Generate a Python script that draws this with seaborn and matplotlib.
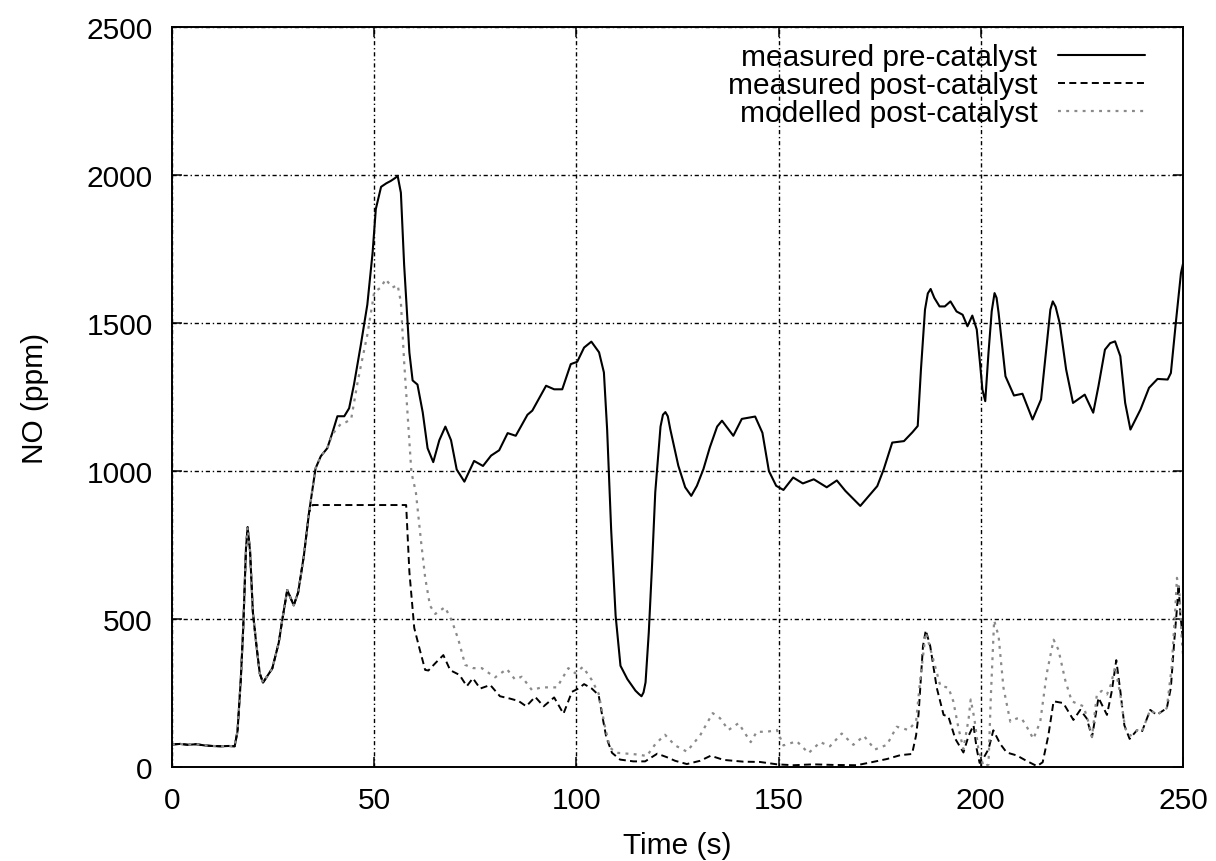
import matplotlib
matplotlib.use("Agg")
import matplotlib.pyplot as plt
import seaborn as sns

# NO concentration traces over the drive cycle (time in s, NO in ppm)
pre_t = [0, 2, 4, 6, 8, 10, 12, 14, 15.5, 16.2, 17.0, 17.6, 18.3, 18.7, 19.3, 20.0, 20.9, 21.7, 22.5,
         24.8, 26.4, 27.3, 28.5, 30.1, 31.2, 32.6, 33.9, 35.5, 36.8, 38.4, 39.7, 40.9, 42.6, 43.8,
         45.0, 46.7, 48.3, 49.6, 50.4, 51.7, 53.0, 54.1, 55.2, 55.8, 56.6, 57.4, 58.7, 59.5, 60.7,
         62.0, 63.2, 64.6, 66.1, 67.6, 69.0, 70.4, 72.3, 74.7, 76.9, 78.9, 80.9, 83.0, 85.0, 87.9,
         89.1, 92.5, 94.5, 96.5, 98.6, 100.2, 101.9, 103.7, 105.6, 106.8, 107.6, 108.6, 109.7, 110.9,
         112.6, 114.6, 115.5, 116.1, 116.6, 117.1, 117.9, 118.7, 119.5, 120.8, 121.4, 122.0, 122.6,
         123.2, 125.2, 126.9, 128.4, 129.8, 131.4, 133.0, 134.8, 136.0, 138.8, 140.9, 144.2, 146.0,
         147.6, 149.4, 151.2, 153.6, 156.0, 158.7, 161.9, 164.4, 166.5, 170.2, 174.4, 176.0, 178.1,
         181.0, 183.1, 184.4, 185.2, 186.2, 186.9, 187.6, 188.5, 189.8, 191.1, 192.5, 194.0, 195.5,
         196.7, 197.9, 199.0, 199.8, 200.4, 201.1, 201.9, 202.7, 203.4, 203.9, 204.4, 206.1, 208.2,
         210.3, 211.5, 212.8, 214.9, 216.5, 217.2, 217.8, 218.5, 219.5, 221.1, 222.8, 225.7, 227.8,
         229.1, 230.7, 232.0, 233.2, 234.5, 235.7, 237.0, 239.5, 241.6, 243.7, 246.2, 247.0, 248.3,
         249.5, 250.0]
pre_v = [76, 78, 75, 77, 73, 71, 70, 71, 70, 121, 293, 466, 740, 810, 730, 523, 408, 316, 285,
         333, 420, 500, 598, 546, 590, 713, 861, 1009, 1050, 1077, 1131, 1185, 1185, 1212,
         1292, 1427, 1562, 1737, 1885, 1960, 1972, 1980, 1990, 1997, 1940, 1697, 1400, 1306, 1292,
         1198, 1077, 1030, 1104, 1150, 1104, 1005, 964, 1034, 1017, 1052, 1070, 1128, 1119, 1190,
         1204, 1288, 1276, 1276, 1361, 1369, 1417, 1437, 1401, 1333, 1140, 800, 511, 342,
         297, 258, 246, 239, 252, 286, 455, 680, 928, 1150, 1190, 1199, 1185,
         1142, 1018, 945, 916, 950, 1006, 1080, 1150, 1170, 1119, 1176, 1184, 1129,
         1000, 950, 936, 978, 958, 972, 945, 968, 933, 882, 949, 1006, 1096,
         1101, 1131, 1152, 1343, 1545, 1600, 1615, 1585, 1556, 1556, 1573, 1539, 1528,
         1489, 1525, 1478, 1365, 1275, 1236, 1399, 1540, 1601, 1585, 1534, 1320, 1255,
         1261, 1219, 1174, 1242, 1455, 1545, 1573, 1555, 1500, 1343, 1230, 1258, 1197,
         1287, 1410, 1432, 1438, 1388, 1230, 1140, 1208, 1281, 1311, 1309, 1331, 1511,
         1669, 1700]

post_t = [0, 2, 4, 6, 8, 10, 12, 14, 15.5, 16.2, 17.0, 17.6, 18.3, 18.7, 19.3, 20.0, 20.9, 21.7, 22.5,
          24.8, 26.4, 27.3, 28.5, 30.1, 31.2, 32.6, 33.9, 34.8, 57.9, 58.7, 59.9, 61.2, 62.6, 63.4,
          65.2, 67.1, 68.8, 71.1, 72.9, 74.4, 76.2, 78.7, 81.1, 83.6, 85.7, 87.6, 89.8, 91.9, 94.5,
          96.8, 98.9, 100.5, 101.9, 103.8, 105.5, 106.3, 107.4, 108.8, 110.8, 114.1, 117.0, 120.0,
          122.4, 124.4, 127.3, 130.6, 133.2, 136.4, 141.3, 145.4, 149.6, 153.7, 158.6, 163.6, 169.3,
          172.6, 176.8, 180.1, 183.0, 184.0, 184.6, 185.7, 186.4, 187.5, 189.1, 190.8, 192.0, 193.7,
          195.7, 197.0, 198.2, 199.0, 199.7, 200.7, 201.9, 203.1, 204.8, 206.4, 208.9, 211.4, 213.9,
          215.3, 216.7, 218.0, 220.4, 222.9, 224.6, 226.2, 227.5, 229.1, 231.2, 232.4, 233.5, 234.5,
          235.5, 236.8, 238.6, 239.8, 241.9, 243.5, 246.0, 247.0, 247.8, 248.5, 248.9, 249.3, 250.0]
post_v = [76, 78, 75, 77, 73, 71, 70, 71, 70, 121, 293, 466, 740, 810, 730, 523, 408, 316, 285,
          333, 420, 500, 598, 546, 590, 713, 861, 885, 885, 659, 470, 400, 328, 326,
          352, 378, 327, 311, 273, 300, 265, 277, 239, 231, 223, 205, 237, 205, 235,
          180, 254, 265, 280, 265, 243, 180, 100, 48, 25, 19, 19, 45,
          33, 21, 10, 21, 38, 24, 18, 17, 9, 6, 9, 7, 6,
          15, 27, 40, 44, 107, 177, 408, 462, 408, 268, 176, 170, 95,
          49, 106, 141, 60, 14, 31, 60, 124, 78, 49, 39, 20, 3,
          16, 106, 222, 216, 159, 193, 164, 101, 234, 176, 257, 361, 257,
          141, 95, 124, 118, 193, 176, 199, 268, 419, 535, 616, 520, 430]

model_t = [0, 2, 4, 6, 8, 10, 12, 14, 15.5, 16.2, 17.0, 17.6, 18.3, 18.7, 19.3, 20.0, 20.9, 21.7, 22.5,
           24.8, 26.4, 27.3, 28.5, 30.1, 31.2, 32.6, 33.9, 35.5, 36.8, 38.4, 39.7, 41.8, 43.0, 44.3,
           45.9, 46.7, 48.3, 49.6, 50.0, 51.7, 52.8, 54.5, 55.8, 56.6, 57.4, 58.3, 59.2, 60.3, 61.6,
           62.6, 63.8, 65.1, 67.5, 69.2, 70.8, 72.5, 74.5, 76.6, 79.9, 82.8, 84.8, 86.5, 89.0, 91.4,
           95.2, 98.0, 99.7, 101.6, 103.8, 105.5, 107.1, 108.3, 110.0, 112.5, 115.3, 117.4, 119.5,
           121.9, 124.4, 127.3, 130.6, 133.7, 135.5, 137.6, 140.1, 143.1, 144.6, 147.1, 149.6, 151.2,
           154.5, 157.4, 160.3, 162.7, 165.6, 168.5, 171.1, 173.8, 176.8, 179.2, 182.1, 184.0, 185.0,
           186.4, 188.3, 190.0, 192.0, 193.2, 194.5, 195.7, 197.0, 197.5, 198.4, 199.4, 200.7, 201.9,
           202.5, 203.3, 204.4, 205.6, 207.3, 208.9, 210.1, 211.4, 213.0, 214.7, 216.3, 218.0, 219.2,
           220.9, 222.5, 225.4, 226.6, 227.5, 228.7, 229.9, 231.2, 232.2, 233.2, 234.5, 235.7, 237.0,
           238.6, 239.8, 241.9, 243.5, 246.0, 247.2, 248.1, 248.5, 249.1, 249.7, 250.0]
model_v = [76, 78, 75, 77, 73, 71, 70, 71, 70, 121, 293, 466, 740, 810, 730, 523, 408, 316, 285,
           333, 420, 500, 598, 546, 590, 713, 861, 1009, 1050, 1077, 1125, 1160, 1165, 1175,
           1300, 1355, 1460, 1569, 1605, 1620, 1648, 1620, 1628, 1570, 1370, 1180, 995, 929, 760,
           640, 545, 517, 540, 494, 431, 345, 334, 334, 303, 331, 296, 305, 260, 269,
           269, 334, 317, 338, 294, 248, 134, 65, 48, 45, 42, 37, 77,
           109, 73, 52, 107, 182, 165, 125, 148, 84, 119, 119, 125, 73,
           87, 47, 84, 70, 113, 75, 105, 59, 75, 136, 125, 154, 292,
           454, 361, 274, 268, 222, 130, 60, 164, 228, 164, 60, 2, 8,
           245, 495, 442, 268, 153, 164, 164, 135, 95, 153, 315, 430, 396,
           292, 222, 205, 153, 101, 245, 257, 245, 280, 338, 245, 130, 106,
           124, 118, 193, 176, 199, 338, 535, 639, 593, 430, 380]

x_ticks = [0, 50, 100, 150, 200, 250]
y_ticks = [0, 500, 1000, 1500, 2000, 2500]

sns.set_theme(style="ticks")
plt.rcParams["font.family"] = ["Liberation Sans", "DejaVu Sans"]
plt.rcParams["text.color"] = "black"
plt.rcParams["axes.labelcolor"] = "black"
plt.rcParams["xtick.color"] = "black"
plt.rcParams["ytick.color"] = "black"

FS = 21.5
W, H = 1216, 862
fig = plt.figure(figsize=(W / 100, H / 100), dpi=100)
ax = fig.add_axes([172 / W, 1 - 768 / H, (1183 - 172) / W, (768 - 28) / H])

sns.lineplot(x=pre_t, y=pre_v, ax=ax, color="black", linewidth=1.5,
             solid_joinstyle="round", estimator=None, sort=False,
             label="measured pre-catalyst")
sns.lineplot(x=post_t, y=post_v, ax=ax, color="black", linewidth=1.4,
             linestyle=(0, (3.6, 2.2)), dash_joinstyle="round",
             estimator=None, sort=False, label="measured post-catalyst")
sns.lineplot(x=model_t, y=model_v, ax=ax, color="#8a8a8a", linewidth=1.6,
             linestyle=(0, (1.3, 2.4)), dash_joinstyle="round",
             estimator=None, sort=False, label="modelled post-catalyst")

ax.set_xlim(0, 250)
ax.set_ylim(0, 2500)
ax.set_xticks(x_ticks)
ax.set_yticks(y_ticks)
ax.grid(True, color="black", linestyle=(0, (3, 2, 1, 2)), linewidth=1.0)
ax.set_axisbelow(True)

for side in ["top", "right", "bottom", "left"]:
    ax.spines[side].set_visible(True)
    ax.spines[side].set_color("black")
    ax.spines[side].set_linewidth(1.4)

ax.tick_params(direction="in", length=7, width=1.1, top=True, right=True,
               labelsize=FS, pad=14)
ax.set_xlabel("Time (s)", fontsize=FS, labelpad=12)
ax.set_ylabel("NO (ppm)", fontsize=FS, labelpad=27)

handles, labels = ax.get_legend_handles_labels()
ax.legend(handles, labels, loc="upper right", bbox_to_anchor=(0.9624, 0.978),
          frameon=False, markerfirst=False, fontsize=FS, handlelength=2.9,
          handletextpad=0.7, labelspacing=0.0, borderpad=0, borderaxespad=0)

fig.savefig("out.png", dpi=100, facecolor="white")
